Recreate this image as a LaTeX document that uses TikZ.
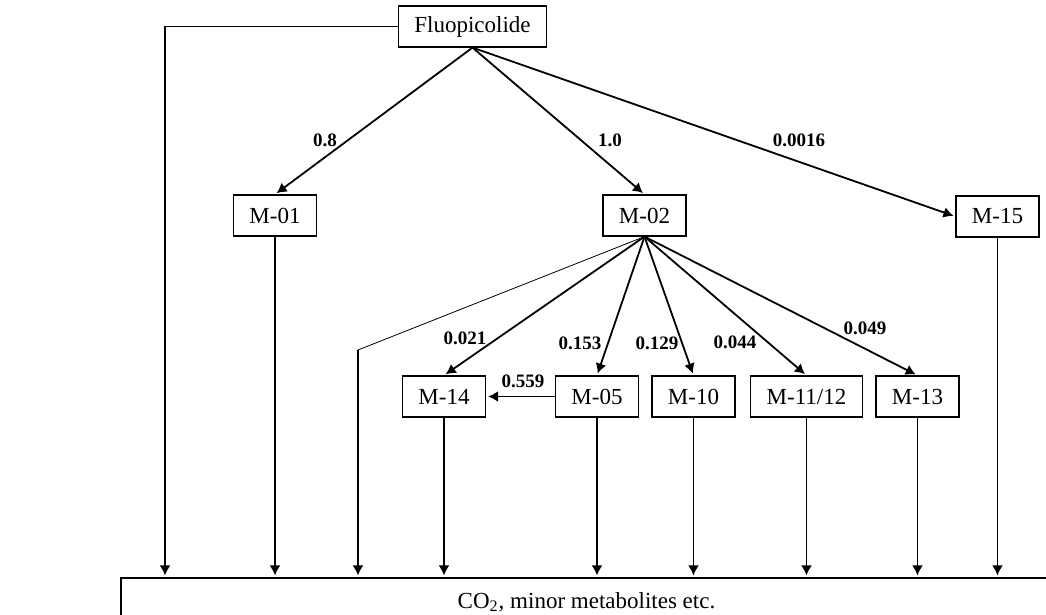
\documentclass[tikz,border=0pt]{standalone}
\usepackage{fontspec}
\setmainfont{Liberation Serif}
\usetikzlibrary{arrows.meta,positioning}

\begin{document}
\begin{tikzpicture}[x=0.5pt, y=-0.5pt,
  font=\fontsize{11.5}{13}\selectfont,
  met/.style={draw=black, line width=0.6pt, minimum width=40pt,
              minimum height=20.5pt, inner xsep=8pt, inner ysep=2pt},
  flow/.style={-{Latex[length=5pt,width=5.5pt]}, line width=0.9pt,
               shorten >=1pt},
  frac/.style={font=\fontsize{9.5}{11}\selectfont\bfseries, inner sep=1pt}]
  \useasboundingbox (0,0) rectangle (1046,615);
  \clip (0,0) rectangle (1046,615);
  % parent and first generation
  \node[met] (flu) at (472.5,26.5) {Fluopicolide};
  \node[met] (m01) at (275,215.5) {M-01};
  \node[met] (m02) at (644.5,215.5) {M-02};
  \node[met] (m15) at (997.5,216.5) {M-15};
  % second generation
  \node[met] (m14) at (444,396.5) {M-14};
  \node[met] (m05) at (597,396.5) {M-05};
  \node[met] (m10) at (693.5,396.5) {M-10};
  \node[met] (m1112) at (806.5,396.5) {M-11/12};
  \node[met] (m13) at (917.5,396.5) {M-13};
  \node[draw, line width=0.6pt, minimum width=465.5pt, minimum height=24pt]
    (sink) at (586.5,602) {CO\textsubscript{2}, minor metabolites etc.};
  \coordinate (fluleft) at (165,26.5);
  \coordinate (m02bend) at (358,350);
  \draw[flow] (flu.south) -- (m01.north);
  \draw[flow] (flu.south) -- (m02.north);
  \draw[flow] (flu.south) -- (m15.west);
  \foreach \t in {m14,m05,m10,m1112,m13}
    \draw[flow] (m02.south) -- (\t.north);
  \draw[flow] (m05) -- (m14);
  \foreach \t in {m01,m14,m05,m10,m1112,m13,m15}
    \draw[flow] (\t) -- (\t |- sink.north);
  \draw[flow] (flu.west) -- (fluleft) -- (fluleft |- sink.north);
  \draw[line width=0.4pt] (m02.south) -- (m02bend);
  \draw[flow] (m02bend) -- (m02bend |- sink.north);
  % fractions
  \node[frac] (f01) at (325,140) {0.8};
  \node[frac] (f02) at (610,140) {1.0};
  \node[frac] (f15) at (799,140) {0.0016};
  \node[frac] (f14) at (465,338) {0.021};
  \node[frac] (f05) at (580,343) {0.153};
  \node[frac] (f10) at (657,343) {0.129};
  \node[frac] (f1112) at (735,342) {0.044};
  \node[frac] (f13) at (865,328) {0.049};
  \node[frac] (f0514) at (523,381) {0.559};
\end{tikzpicture}
\end{document}
